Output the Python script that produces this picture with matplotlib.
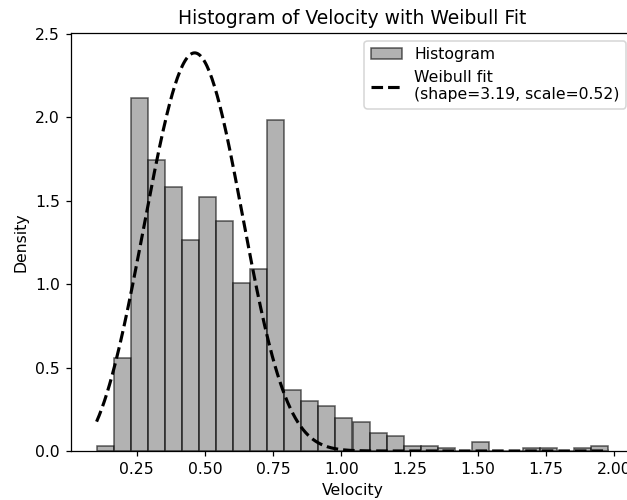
import numpy as np
import matplotlib
matplotlib.use("Agg")
import matplotlib.pyplot as plt

# Histogram bins (velocity range and number of bins)
bin_start = 0.103
bin_end = 1.978
n_bins = 30

# Density of each bin
density = [0.032, 0.560, 2.115, 1.742, 1.584, 1.264, 1.522, 1.378, 1.005, 1.090,
           1.984, 0.368, 0.300, 0.268, 0.195, 0.176, 0.110, 0.088, 0.032, 0.030,
           0.016, 0.0, 0.052, 0.0, 0.0, 0.016, 0.016, 0.0, 0.016, 0.032]

# Weibull fit parameters
shape = 3.19
scale = 0.52

edges = np.linspace(bin_start, bin_end, n_bins + 1)
centers = (edges[:-1] + edges[1:]) / 2

DPI = 112.5
fig = plt.figure(figsize=(627 / DPI, 500 / DPI), dpi=DPI)
ax = fig.add_axes([71 / 627, 49 / 500, (634 - 71) / 627, (451 - 33) / 500])

ax.hist(centers, bins=edges, weights=density, color='gray', alpha=0.6,
        edgecolor='black', label='Histogram')

x = np.linspace(bin_start, bin_end, 400)
pdf = (shape / scale) * (x / scale) ** (shape - 1) * np.exp(-(x / scale) ** shape)
ax.plot(x, pdf, 'k--', linewidth=2,
        label=f'Weibull fit\n(shape={shape:.2f}, scale={scale:.2f})')

ax.set_title('Histogram of Velocity with Weibull Fit', fontsize=12)
ax.set_xlabel('Velocity')
ax.set_ylabel('Density')
ax.legend(loc='upper right')

fig.savefig('out.png', dpi=DPI)
